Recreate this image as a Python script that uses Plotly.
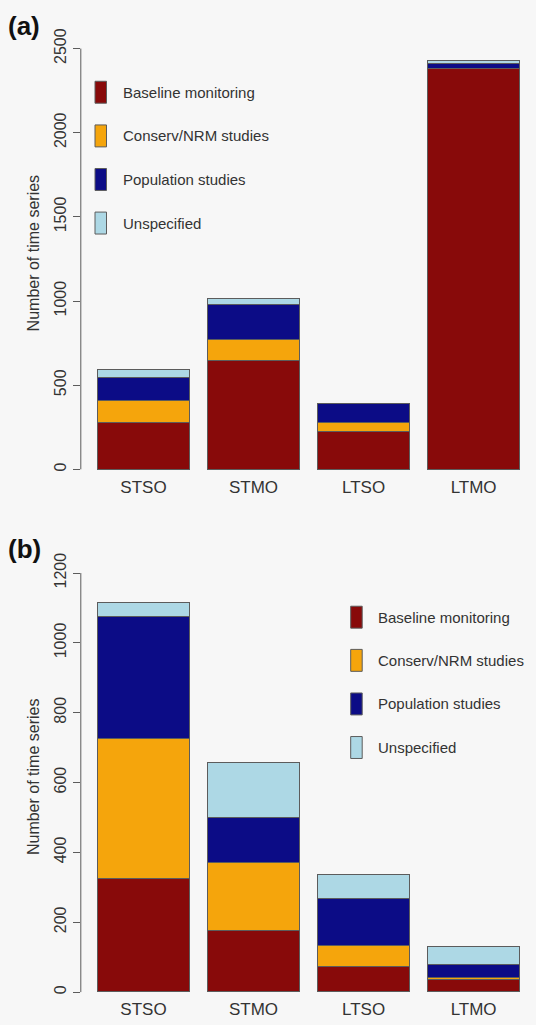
import plotly.graph_objects as go

# ---------------- data ----------------
categories = ["STSO", "STMO", "LTSO", "LTMO"]
series_names = ["Baseline monitoring", "Conserv/NRM studies", "Population studies", "Unspecified"]

# panel (a)
a_baseline = [276, 646, 226, 2380]
a_conserv = [131, 122, 50, 0]
a_population = [138, 213, 111, 29]
a_unspecified = [47, 32, 0, 18]

# panel (b)
b_baseline = [323, 175, 70, 34]
b_conserv = [400, 193, 62, 6]
b_population = [351, 131, 134, 37]
b_unspecified = [38, 155, 68, 50]

a_ticks = [0, 500, 1000, 1500, 2000, 2500]
b_ticks = [0, 200, 400, 600, 800, 1000, 1200]

# ---------------- styling ----------------
W, H = 536, 1025
colors = ["#880A0A", "#F5A50C", "#0C0C86", "#ADD8E5"]
edge = "#5c5c5c"
bg = "#f7f7f7"
txt = "#333333"
FONT = "Liberation Sans, Arial, sans-serif"

def fx(p):
    return p / W

def fy(p):
    return 1 - p / H

# bar positions (R barplot: width 1, space 0.2)
xpos = [0.7 + 1.2 * i for i in range(len(categories))]
x_left_px, x_unit_px = 79.3, 91.7
x_range = [(80.8 - x_left_px) / x_unit_px, (W - x_left_px) / x_unit_px]

# panel geometry (pixel where value 0 / top tick sits, and domain limits)
def y_setup(zero_px, top_px, top_val, dom_bottom_px, dom_top_px):
    scale = (zero_px - top_px) / top_val
    lo = (zero_px - dom_bottom_px) / scale
    hi = (zero_px - dom_top_px) / scale
    return [lo, hi], [fy(dom_bottom_px), fy(dom_top_px)]

ya_range, ya_dom = y_setup(467.7, 45.7, 2500, 473.0, 28.8)
yb_range, yb_dom = y_setup(992.0, 571.7, 1200, 997.3, 554.9)

fig = go.Figure()
panels = [
    ("x", "y", [a_baseline, a_conserv, a_population, a_unspecified]),
    ("x2", "y2", [b_baseline, b_conserv, b_population, b_unspecified]),
]
for xa, ya, vals in panels:
    for name, v, c in zip(series_names, vals, colors):
        fig.add_trace(go.Bar(
            x=xpos, y=v, width=1, name=name, xaxis=xa, yaxis=ya,
            marker=dict(color=c, line=dict(color=edge, width=1)),
            showlegend=False,
        ))

axis_common_x = dict(range=x_range, domain=[fx(80.8), 1.0], tickvals=xpos, ticktext=categories,
                     showline=False, showgrid=False, zeroline=False, ticks="",
                     tickfont=dict(family=FONT, size=17, color=txt), fixedrange=True)
axis_common_y = dict(showline=False, showgrid=False, zeroline=False, ticks="outside", ticklen=7,
                     tickcolor=edge, tickwidth=1, tickangle=-90,
                     tickfont=dict(family=FONT, size=16, color=txt),
                     title=dict(text="Number of time series", font=dict(family=FONT, size=16, color=txt), standoff=8),
                     fixedrange=True)

fig.update_layout(
    width=W, height=H,
    margin=dict(l=0, r=0, t=0, b=0),
    paper_bgcolor=bg, plot_bgcolor=bg,
    barmode="stack", bargap=0,
    showlegend=False,
    font=dict(family=FONT, color=txt),
    xaxis=dict(axis_common_x, anchor="y"),
    xaxis2=dict(axis_common_x, anchor="y2"),
    yaxis=dict(axis_common_y, range=ya_range, domain=ya_dom, tickvals=a_ticks, anchor="x"),
    yaxis2=dict(axis_common_y, range=yb_range, domain=yb_dom, tickvals=b_ticks, anchor="x2"),
)

# y axis lines spanning only the tick range (R style)
for yref, ticks in (("y", a_ticks), ("y2", b_ticks)):
    fig.add_shape(type="line", xref="paper", yref=yref, x0=fx(80.8), x1=fx(80.8),
                  y0=ticks[0], y1=ticks[-1], line=dict(color=edge, width=1))

# panel labels
for label, ycen in (("(a)", 23), ("(b)", 547.5)):
    fig.add_annotation(text="<b>" + label + "</b>", xref="paper", yref="paper",
                       x=fx(6), y=fy(ycen), xanchor="left", yanchor="middle",
                       showarrow=False, font=dict(family=FONT, size=26, color="#111111"))

# custom legends (tall swatches as in the original)
legends = [
    (95.0, 120.7, [89.5, 133.3, 177.0, 220.7]),
    (350.7, 376.0, [616.0, 659.3, 703.0, 746.7]),
]
for box_x, text_x, ycs in legends:
    for name, c, yc in zip(series_names, colors, ycs):
        fig.add_shape(type="rect", xref="paper", yref="paper",
                      x0=fx(box_x), x1=fx(box_x + 11.5), y0=fy(yc + 11), y1=fy(yc - 11),
                      fillcolor=c, line=dict(color=edge, width=1))
        fig.add_annotation(text=name, xref="paper", yref="paper", x=fx(text_x), y=fy(yc),
                           xanchor="left", yanchor="middle", showarrow=False,
                           font=dict(family=FONT, size=15, color=txt))

fig.write_html(
    "out.html",
    config={"displayModeBar": False},
    post_script="document.body.style.margin='0';document.body.style.padding='0';"
                "document.documentElement.style.overflow='hidden';document.body.style.background='%s';" % bg,
)
